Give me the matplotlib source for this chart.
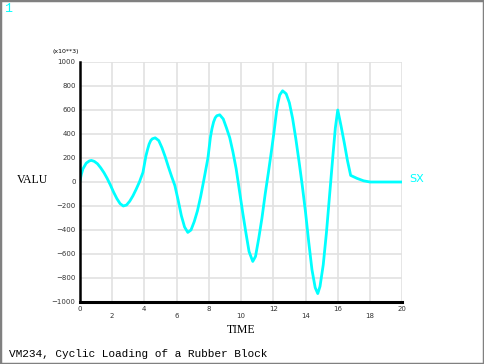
import matplotlib
matplotlib.use("Agg")
import matplotlib.pyplot as plt
from matplotlib.patches import Rectangle

# SX response (time, value in units of 10**3)
time = [0.0, 0.1, 0.2, 0.4, 0.6, 0.72, 0.9, 1.1, 1.3, 1.5, 1.7, 1.9, 2.1, 2.3, 2.5, 2.7,
        2.9, 3.1, 3.3, 3.5, 3.7, 3.92, 4.1, 4.2, 4.3, 4.4, 4.5, 4.68, 4.9, 5.1, 5.3, 5.5,
        5.7, 5.9, 6.1, 6.3, 6.5, 6.7, 6.9, 7.1, 7.3, 7.5, 7.7, 7.95, 8.1, 8.2, 8.3, 8.4,
        8.5, 8.68, 8.9, 9.1, 9.3, 9.5, 9.7, 9.9, 10.1, 10.3, 10.5, 10.73, 10.9, 11.1,
        11.3, 11.5, 11.7, 11.9, 12.05, 12.2, 12.3, 12.4, 12.58, 12.8, 13.0, 13.2, 13.4,
        13.6, 13.8, 14.0, 14.2, 14.4, 14.6, 14.76, 14.9, 15.1, 15.3, 15.5, 15.7, 15.85,
        16.0, 16.2, 16.4, 16.6, 16.8, 17.2, 17.6, 18.0, 20.0]
sx = [0, 65, 110, 157, 176, 180, 172, 152, 118, 78, 30, -25, -85, -138, -180, -200,
      -192, -160, -115, -60, 0, 80, 215, 268, 315, 345, 360, 368, 345, 285, 210, 125,
      45, -30, -150, -280, -375, -420, -400, -330, -240, -120, 20, 200, 370, 445, 500,
      535, 552, 560, 525, 450, 370, 250, 110, -70, -250, -420, -580, -662, -620, -470,
      -300, -100, 80, 270, 420, 585, 665, 725, 760, 735, 660, 530, 360,
      170, -30, -250, -500, -730, -880, -930, -870, -690, -420, -100, 220, 450,
      600, 470, 330, 180, 55, 30, 10, 0, 0]

xticks = list(range(0, 21, 2))
yticks = list(range(-1000, 1001, 200))

fig = plt.figure(figsize=(4.84, 3.64), dpi=100)
fig.patches.append(Rectangle((0, 0), 1, 1, transform=fig.transFigure, fill=False,
                             edgecolor="#808080", linewidth=2.5))

ax = fig.add_axes([79.75 / 484, 62 / 364, 322.5 / 484, 240 / 364])
ax.plot(time, sx, color="#00ffff", linewidth=2)
ax.set_xlim(0, 20)
ax.set_ylim(-1000, 1000)

ax.set_xticks(xticks)
ax.set_yticks(yticks)
ax.grid(True, color="#e2e2e2", linewidth=1.2)
ax.set_axisbelow(True)
for side in ["top", "right"]:
    ax.spines[side].set_visible(False)
ax.spines["left"].set_linewidth(1.8)
ax.spines["bottom"].set_linewidth(2.2)
ax.tick_params(length=0, labelsize=5, pad=3, colors="#333333")
ax.set_yticklabels([str(v).replace("-", "\u2212") for v in yticks])
ax.set_xticklabels([str(v) if v % 4 == 0 else "\n" + str(v) for v in xticks])

fig.text(66 / 484, 1 - 52 / 364, "(x10**3)", fontsize=4.5, ha="center", va="center")
fig.text(32 / 484, 1 - 180 / 364, "VALU", family="Liberation Serif", fontsize=8.5,
         ha="center", va="center")
fig.text(241 / 484, 1 - 330 / 364, "TIME", family="Liberation Serif", fontsize=8.5,
         ha="center", va="center")
fig.text(409 / 484, 1 - 179 / 364, "SX", color="#00ffff", fontsize=8, va="center")
fig.text(4 / 484, 1 - 9 / 364, "1", color="#00ffff", family="Liberation Mono",
         fontsize=9.5, va="center")
fig.text(9 / 484, 1 - 354 / 364, "VM234, Cyclic Loading of a Rubber Block",
         family="Liberation Mono", fontsize=8, va="center")

fig.savefig("out.png", dpi=100)
